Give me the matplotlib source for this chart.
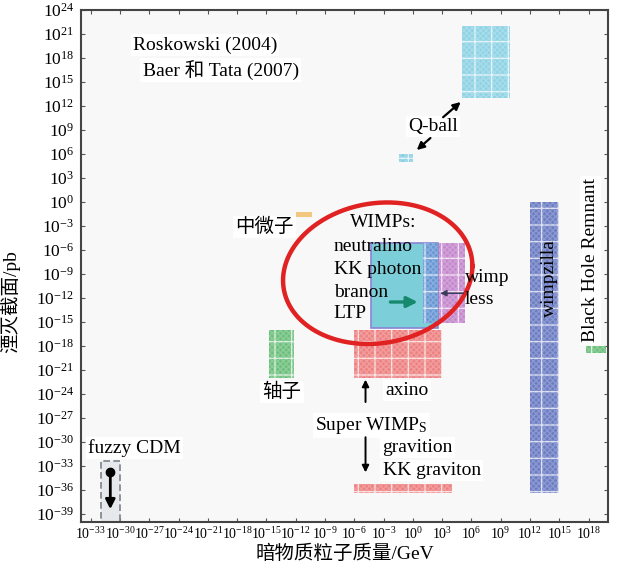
import numpy as np
import matplotlib
matplotlib.use('Agg')
import matplotlib.pyplot as plt
from matplotlib.patches import Rectangle

plt.rcParams['font.family'] = ['Liberation Serif', 'Noto Sans CJK SC']
plt.rcParams['mathtext.fontset'] = 'stix'
plt.rcParams['hatch.linewidth'] = 0.9

# log10 bounds of each candidate region: (mass lo, mass hi, sigma lo, sigma hi)
qball_big = (5, 10, 13, 22)
qball_small = (-1.4, 0, 5, 6)
neutrino = (-12, -10.3, -1.9, -1.25)
wimp = (-4.3, 2.6, -15.75, -5.1)
wimpless = (1, 5.3, -15.1, -5.1)
axion = (-14.7, -12.2, -22, -16)
axino = (-6, 3, -22, -16)
gravitino = (-6, 4, -36.4, -35.3)
wimpzilla = (12, 15, -36.4, 0)
bh_remnant = (17.7, 19.8, -18.9, -18)
fuzzy_cdm = (-32, -30, -40, -32.4)

x_ticks = np.arange(-33, 19, 3)
y_ticks = np.arange(-39, 25, 3)


def box(ax, b, color, hatch=True, edge=None, z=2):
    x0, x1, y0, y1 = [10.0 ** v for v in b]
    ax.add_patch(Rectangle((x0, y0), x1 - x0, y1 - y0, facecolor=color,
                           edgecolor='none', lw=0, zorder=z))
    if hatch:
        ax.add_patch(Rectangle((x0, y0), x1 - x0, y1 - y0, fill=False,
                               edgecolor='white', lw=0, hatch='xxxxxx',
                               alpha=0.22, zorder=z))
        ax.add_patch(Rectangle((x0, y0), x1 - x0, y1 - y0, fill=False,
                               edgecolor='white', lw=0, hatch='+',
                               alpha=0.75, zorder=z))
    if edge is not None:
        ax.add_patch(Rectangle((x0, y0), x1 - x0, y1 - y0, fill=False,
                               edgecolor=edge, lw=1.2, zorder=z + 0.1))


def p(v):
    return 10.0 ** v


def label(ax, x, y, s, **kw):
    kw.setdefault('fontsize', 14)
    kw.setdefault('va', 'center')
    ax.text(p(x), p(y), s, zorder=6,
            bbox=dict(facecolor='white', edgecolor='none', pad=1.5), **kw)


def arrow(ax, x0, y0, x1, y1, color='black', lw=1.6, head=10):
    ax.annotate('', xy=(p(x1), p(y1)), xytext=(p(x0), p(y0)), zorder=7,
                arrowprops=dict(arrowstyle='-|>', color=color, lw=lw,
                                mutation_scale=head, shrinkA=0, shrinkB=0))


fig = plt.figure(figsize=(6.19, 5.70), dpi=100)
ax = fig.add_axes([0.1309, 0.0842, 0.8514, 0.8982])
ax.set_facecolor('#f8f8f8')
ax.set_xscale('log')
ax.set_yscale('log')
ax.set_xlim(1e-34, 1e20)
ax.set_ylim(1e-40, 1e24)

ax.set_xticks([p(v) for v in x_ticks])
ax.set_xticklabels([r'$\mathregular{10^{%d}}$' % v for v in x_ticks])
ax.set_yticks([p(v) for v in y_ticks])
ax.set_yticklabels([r'$\mathregular{10^{%d}}$' % v for v in y_ticks])
ax.minorticks_off()
ax.tick_params(axis='both', direction='in', top=True, right=True,
               length=3, width=0.8, color='#555555')
ax.tick_params(axis='x', labelsize=10, pad=3)
ax.tick_params(axis='y', labelsize=12.5, pad=5)
for s in ax.spines.values():
    s.set_color('#444444')
    s.set_linewidth(1.5)

ax.set_xlabel('暗物质粒子质量/GeV', fontsize=14, labelpad=2)
ax.set_ylabel('湮灭截面/pb', fontsize=14)
ax.yaxis.set_label_coords(-0.115, 0.43)

# regions
box(ax, qball_big, '#8fd3e5')
box(ax, qball_small, '#88cfe4')
box(ax, neutrino, '#f4c77e', hatch=False)
box(ax, axion, '#6cc07c')
box(ax, axino, '#ee8282')
box(ax, gravitino, '#ee8282')
box(ax, wimpzilla, '#6c7dc4')
box(ax, bh_remnant, '#6cc07c')
box(ax, wimp, '#7ccfd8', hatch=False, edge='#8a84d2', z=3)
box(ax, wimpless, '#c488cd', z=2.5)
overlap = (max(wimp[0], wimpless[0]), min(wimp[1], wimpless[1]),
           max(wimp[2], wimpless[2]), min(wimp[3], wimpless[3]))
box(ax, overlap, '#6898d4', z=3.5)

# fuzzy CDM band
fx0, fx1, fy0, fy1 = [p(v) for v in fuzzy_cdm]
ax.add_patch(Rectangle((fx0, fy0), fx1 - fx0, fy1 - fy0, facecolor='#e6e8ec',
                       edgecolor='#7c828a', lw=1.2, ls=(0, (4, 2)), zorder=2))
ax.plot(p(-31), p(-33.75), 'o', color='black', ms=6, zorder=8)
arrow(ax, -31, -33.75, -31, -38.4, lw=2, head=14)

# WIMP ellipse, drawn in decades
t = np.linspace(0, 2 * np.pi, 400)
ex, ey, ea, eb = -3.6, -8.9, 9.7, 8.8
ax.plot(p(ex + ea * np.cos(t)), p(ey + eb * np.sin(t) + 0.9 * np.cos(t)),
        color='#e02222', lw=3.2, zorder=5)

# labels
label(ax, -28.7, 19.6, 'Roskowski (2004)')
label(ax, -27.7, 16.5, 'Baer 和 Tata (2007)')
label(ax, 2.1, 9.4, 'Q-ball', ha='center')
arrow(ax, 3.1, 10.6, 4.9, 12.5, head=11)
arrow(ax, 1.8, 8.0, 0.4, 6.5, head=11)
label(ax, -12.2, -3.1, '中微子', ha='right')
ax.text(p(-6.4), p(-2.5), 'WIMPs:', fontsize=14, va='center', zorder=6)
for yy, s in zip([-5.6, -8.4, -11.25, -13.9],
                 ['neutralino', 'KK photon', 'branon', 'LTP']):
    ax.text(p(-8.1), p(yy), s, fontsize=14, va='center', zorder=6)
arrow(ax, -2.3, -12.5, 0.5, -12.5, color='#16896e', lw=2.4, head=16)
arrow(ax, 5.2, -11.4, 2.8, -11.4, color='#3c3c5a', lw=1.1, head=9)
ax.text(p(5.3), p(-9.4), 'wimp', fontsize=14, va='center', zorder=6)
ax.text(p(5.3), p(-12.2), 'less', fontsize=14, va='center', zorder=6)
label(ax, -13.4, -23.75, '轴子', ha='center')
label(ax, -2.8, -23.6, 'axino')
arrow(ax, -4.85, -25.0, -4.85, -22.2, lw=1.4, head=10)
label(ax, -10.0, -27.9, r'Super WIMP$_{\mathregular{S}}$')
arrow(ax, -4.85, -29.4, -4.85, -33.8, lw=1.4, head=10)
label(ax, -3.1, -30.7, 'gravition')
label(ax, -3.1, -33.6, 'KK graviton')
label(ax, -33.3, -30.7, 'fuzzy CDM')
ax.text(p(14.0), p(-9.5), 'wimpzilla', fontsize=14, rotation=90,
        ha='center', va='center', zorder=6)
label(ax, 18.2, -7.3, 'Black Hole Remnant', rotation=90, ha='center')

fig.savefig('out.png', dpi=100)
